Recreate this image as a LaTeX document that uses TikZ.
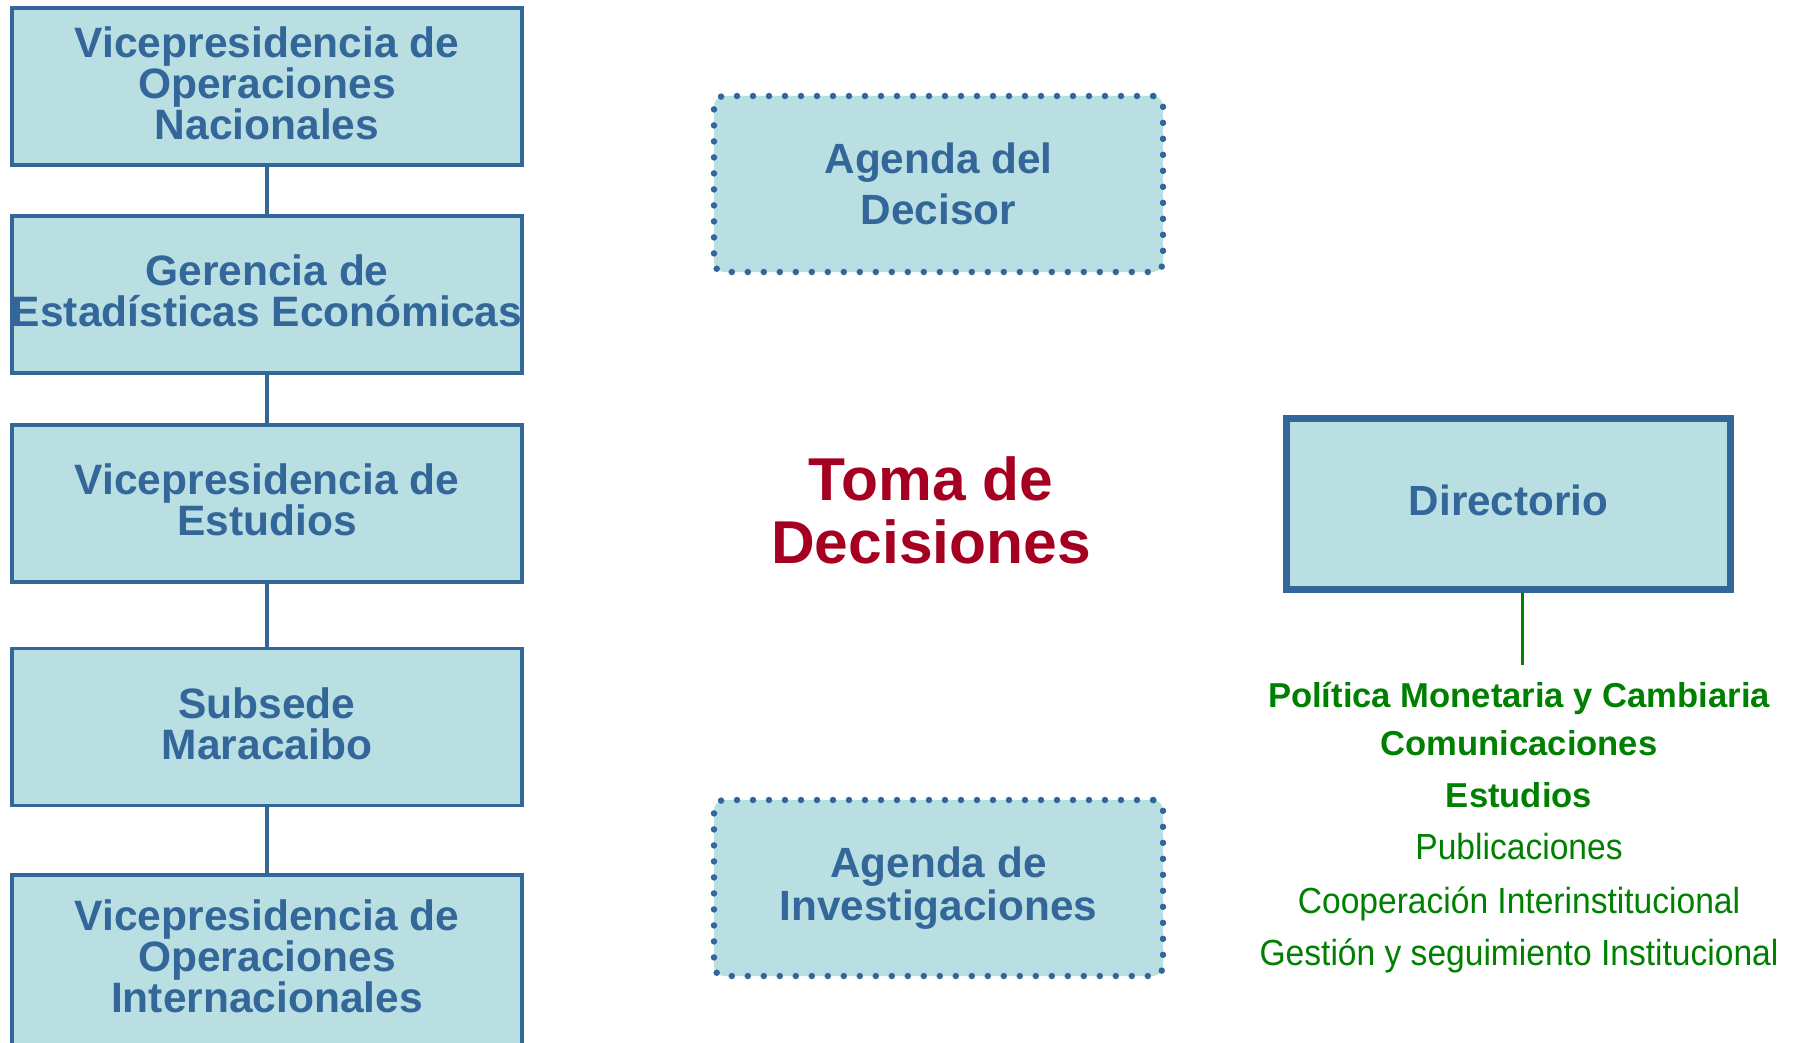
\documentclass[tikz,border=0pt]{standalone}
\usepackage{fontspec}
\setmainfont{Liberation Sans}
\newfontfamily\narrowfont[FakeStretch=0.925]{Liberation Sans}
\definecolor{boxblue}{RGB}{51,102,153}
\definecolor{boxfill}{RGB}{185,223,227}
\definecolor{decred}{RGB}{165,0,33}
\definecolor{orggreen}{RGB}{0,128,0}
\tikzset{
  unitbox/.style={draw=boxblue, line width=3.5pt, fill=boxfill, minimum width=510pt,
    minimum height=157pt, inner sep=0pt, align=center, text=boxblue,
    font=\bfseries\fontsize{42.5}{41}\selectfont,
    execute at end node={\rule[-7pt]{0pt}{7pt}}},
  unittext/.style={inner sep=0pt, align=center, text=boxblue,
    font=\bfseries\fontsize{42.5}{41}\selectfont},
  conn/.style={draw=boxblue, line width=3.5pt},
  agendabox/.style={draw=boxblue, fill=boxfill, line width=6.5pt, dash pattern=on 0pt off 16pt,
    line cap=round, rounded corners=10pt, minimum width=449pt, minimum height=176pt,
    inner sep=0pt, align=center, text=boxblue},
  dirbox/.style={draw=boxblue, line width=7pt, fill=boxfill, minimum width=444pt,
    minimum height=171pt, inner sep=0pt, text=boxblue,
    font=\bfseries\fontsize{42.2}{42}\selectfont,
    execute at end node={\rule[-7pt]{0pt}{7pt}}},
  greenline/.style={draw=orggreen, line width=3pt},
  gbold/.style={anchor=base, inner sep=0pt, text=orggreen, font=\bfseries\fontsize{34.6}{36}\selectfont},
  gnarrow/.style={anchor=base, inner sep=0pt, text=orggreen, font=\narrowfont\fontsize{36.3}{38}\selectfont},
}
\begin{document}
\begin{tikzpicture}[x=1pt,y=-1pt]
\useasboundingbox (0,0) rectangle (1798,1043);
% left column
\node[unitbox] (v1) at (267,86.5) {Vicepresidencia de\\Operaciones\\Nacionales};
\node[unitbox] (v2) at (267,294.5) {Gerencia de\\Estadísticas Económicas};
\node[unitbox] (v3) at (267,503.5) {Vicepresidencia de\\Estudios};
\node[unitbox] (v4) at (267,727) {Subsede\\Maracaibo};
\node[unitbox, minimum height=200pt, anchor=north] (v5) at (267,873) {};
\node[unittext] (v5t) at (267,956) {Vicepresidencia de\\Operaciones\\Internacionales};
\draw[conn] (v1.south) -- (v2.north);
\draw[conn] (v2.south) -- (v3.north);
\draw[conn] (v3.south) -- (v4.north);
\draw[conn] (v4.south) -- (v5.north);
% middle column
\node[agendabox, font=\bfseries\fontsize{42.3}{51}\selectfont] (ad) at (938.5,184) {Agenda del\\Decisor};
\node[agendabox, font=\bfseries\fontsize{42.3}{42.5}\selectfont] (ai) at (938.5,888) {Agenda de\\Investigaciones};
\node[inner sep=0pt, align=center, text=decred, font=\bfseries\fontsize{60.5}{63}\selectfont] (toma) at (931,510.5) {Toma de\\Decisiones};
% right column
\node[dirbox] (dir) at (1508.5,504) {Directorio};
\coordinate (gend) at (1522,665);
\draw[greenline] (dir.south -| gend) -- (gend);
\node[gbold] (g1) at (1519,707) {Política Monetaria y Cambiaria};
\node[gbold] (g2) at (1519,755) {Comunicaciones};
\node[gbold] (g3) at (1519,807) {Estudios};
\node[gnarrow] (g4) at (1519,859) {Publicaciones};
\node[gnarrow] (g5) at (1519,913) {Cooperación Interinstitucional};
\node[gnarrow] (g6) at (1519,965) {Gestión y seguimiento Institucional};
\end{tikzpicture}
\end{document}
